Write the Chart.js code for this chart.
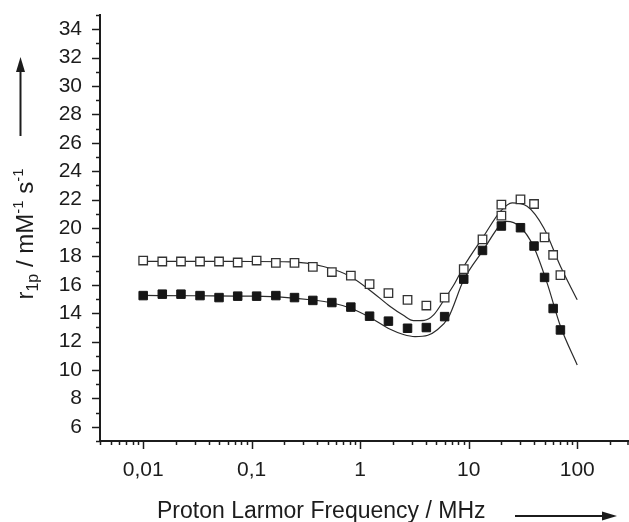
<!DOCTYPE html>
<html>
<head>
<meta charset="utf-8">
<script src="https://cdn.jsdelivr.net/npm/chart.js@4/dist/chart.umd.min.js"></script>
<style>
  html, body { margin: 0; padding: 0; background: #fff; }
  canvas { display: block; }
</style>
</head>
<body>
<canvas id="chart" width="629" height="522"></canvas>
<script>
// measured points (Proton Larmor frequency in MHz, r1p in mM^-1 s^-1)
const freqFilled = [0.01, 0.015, 0.0223, 0.0334, 0.05, 0.0743, 0.111, 0.167, 0.248, 0.366, 0.548, 0.82, 1.22, 1.82, 2.73, 4.07, 6.0, 9.0, 13.4, 20, 30, 40, 50, 60, 70];
const r1Filled = [15.24, 15.34, 15.34, 15.24, 15.10, 15.20, 15.20, 15.24, 15.10, 14.9, 14.75, 14.43, 13.79, 13.44, 12.94, 12.99, 13.76, 16.40, 18.42, 20.14, 20.02, 18.73, 16.52, 14.33, 12.82];

const freqOpen = [0.01, 0.015, 0.0223, 0.0334, 0.05, 0.0743, 0.111, 0.167, 0.248, 0.366, 0.548, 0.82, 1.22, 1.82, 2.73, 4.07, 6.0, 9.0, 13.4, 20, 20, 30, 40, 50, 60, 70];
const r1Open = [17.71, 17.64, 17.64, 17.64, 17.64, 17.57, 17.71, 17.55, 17.55, 17.26, 16.90, 16.64, 16.05, 15.41, 14.94, 14.54, 15.10, 17.11, 19.20, 21.65, 20.87, 22.02, 21.69, 19.34, 18.10, 16.68];

// fitted curves
const fitFreqOpen = [0.01, 0.03, 0.1, 0.226, 0.458, 0.81, 1.33, 1.89, 2.5, 3.1, 3.9, 4.75, 6.0, 7.3, 9.0, 13.7, 19.6, 25.1, 34.5, 49.2, 70.2, 100];
const fitOpen = [17.65, 17.65, 17.64, 17.62, 17.29, 16.59, 15.41, 14.47, 13.85, 13.48, 13.5, 13.88, 15.0, 16.0, 17.29, 19.41, 21.17, 21.77, 21.53, 20.0, 17.29, 14.94];

const fitFreqFilled = [0.01, 0.03, 0.1, 0.2, 0.366, 0.55, 0.82, 1.22, 1.89, 2.5, 3.2, 4.2, 5.1, 6.5, 9, 13.7, 19.6, 22.3, 29.5, 39.6, 52.8, 70.2, 100];
const fitFilled = [15.25, 15.23, 15.2, 15.12, 14.93, 14.72, 14.35, 13.72, 12.87, 12.5, 12.35, 12.45, 12.82, 13.7, 16.35, 18.47, 20.23, 20.47, 20.11, 18.7, 16.12, 13.06, 10.35];

const xTickValues = [0.01, 0.1, 1, 10, 100];
const xTickLabels = ["0,01", "0,1", "1", "10", "100"];
const yTickValues = [6, 8, 10, 12, 14, 16, 18, 20, 22, 24, 26, 28, 30, 32, 34];

const xMin = 0.004, xMax = 300;
const yMin = 5, yMax = 35;

const FONT = "'Liberation Sans', Arial, Helvetica, sans-serif";
const INK = "#1c1c1c";

const toPoints = (xs, ys) => xs.map((x, i) => ({ x, y: ys[i] }));

function noPadding(scale) {
    scale.paddingLeft = 0;
    scale.paddingRight = 0;
    scale.paddingTop = 0;
    scale.paddingBottom = 0;
}

// minor/major tick marks, axis titles and arrows
const decorations = {
    id: "decorations",
    afterDraw(chart) {
        const { ctx, scales: { x, y }, chartArea } = chart;
        ctx.save();
        ctx.strokeStyle = INK;
        ctx.lineWidth = 1.5;

        for (let v = yMin; v <= yMax; v++) {
            const py = Math.round(y.getPixelForValue(v)) + 0.5;
            const len = v % 2 === 0 ? 8 : 4;
            ctx.beginPath();
            ctx.moveTo(chartArea.left, py);
            ctx.lineTo(chartArea.left - len, py);
            ctx.stroke();
        }

        for (let d = 0.001; d <= 100; d *= 10) {
            for (let m = 1; m <= 9; m++) {
                const v = m * d;
                if (v < xMin * 0.999 || v > xMax * 1.001) continue;
                const px = Math.min(Math.round(x.getPixelForValue(v)) + 0.5, chartArea.right - 1);
                const len = m === 1 ? 8 : 4;
                ctx.beginPath();
                ctx.moveTo(px, chartArea.bottom);
                ctx.lineTo(px, chartArea.bottom + len);
                ctx.stroke();
            }
        }

        // x title
        ctx.fillStyle = INK;
        ctx.font = "23px " + FONT;
        ctx.textAlign = "left";
        ctx.textBaseline = "alphabetic";
        ctx.fillText("Proton Larmor Frequency / MHz", 157, 518);

        // x arrow
        ctx.lineWidth = 2;
        ctx.beginPath();
        ctx.moveTo(515, 516);
        ctx.lineTo(604, 516);
        ctx.stroke();
        ctx.beginPath();
        ctx.moveTo(617, 516);
        ctx.lineTo(602, 511.5);
        ctx.lineTo(602, 520.5);
        ctx.closePath();
        ctx.fill();

        // y arrow
        ctx.beginPath();
        ctx.moveTo(20.5, 136);
        ctx.lineTo(20.5, 70);
        ctx.stroke();
        ctx.beginPath();
        ctx.moveTo(20.5, 57);
        ctx.lineTo(16, 72);
        ctx.lineTo(25, 72);
        ctx.closePath();
        ctx.fill();

        // y title, rotated, with sub- and superscripts
        const parts = [
            { t: "r", size: 24, dy: 0 },
            { t: "1p", size: 16, dy: 5 },
            { t: " / mM", size: 24, dy: 0 },
            { t: "-1", size: 15, dy: -10 },
            { t: " s", size: 24, dy: 0 },
            { t: "-1", size: 15, dy: -10 }
        ];
        let total = 0;
        parts.forEach(p => { ctx.font = p.size + "px " + FONT; p.w = ctx.measureText(p.t).width; total += p.w; });
        ctx.translate(33, 234);
        ctx.rotate(-Math.PI / 2);
        let cx = -total / 2;
        parts.forEach(p => {
            ctx.font = p.size + "px " + FONT;
            ctx.fillText(p.t, cx, p.dy);
            cx += p.w;
        });
        ctx.restore();
    }
};

new Chart(document.getElementById("chart"), {
    type: "scatter",
    data: {
        datasets: [
            {
                data: toPoints(freqOpen, r1Open),
                pointStyle: "rect", pointRadius: 6,
                backgroundColor: "#ffffff", borderColor: "#333", borderWidth: 1.3
            },
            {
                data: toPoints(freqFilled, r1Filled),
                pointStyle: "rect", pointRadius: 6,
                backgroundColor: "#161616", borderColor: "#161616", borderWidth: 1
            },
            {
                data: toPoints(fitFreqOpen, fitOpen),
                showLine: true, pointRadius: 0, borderColor: "#2a2a2a", borderWidth: 1.2,
                cubicInterpolationMode: "monotone"
            },
            {
                data: toPoints(fitFreqFilled, fitFilled),
                showLine: true, pointRadius: 0, borderColor: "#2a2a2a", borderWidth: 1.2,
                cubicInterpolationMode: "monotone"
            }
        ]
    },
    options: {
        responsive: false,
        animation: false,
        layout: { autoPadding: false, padding: { top: 15, right: 0, left: 0, bottom: 0 } },
        plugins: { legend: { display: false }, tooltip: { enabled: false } },
        scales: {
            x: {
                type: "logarithmic",
                min: xMin, max: xMax,
                grid: { display: false, drawTicks: false },
                border: { display: true, color: INK, width: 2 },
                afterBuildTicks: scale => { scale.ticks = xTickValues.map(value => ({ value })); },
                afterFit: scale => { scale.height = 81; noPadding(scale); },
                ticks: {
                    autoSkip: false, maxRotation: 0, padding: 17,
                    color: INK, font: { family: FONT, size: 21 },
                    callback: (value, index) => xTickLabels[index]
                }
            },
            y: {
                min: yMin, max: yMax,
                grid: { display: false, drawTicks: false },
                border: { display: true, color: INK, width: 2 },
                afterBuildTicks: scale => { scale.ticks = yTickValues.map(value => ({ value })); },
                afterFit: scale => { scale.width = 100; noPadding(scale); },
                ticks: {
                    autoSkip: false, padding: 18,
                    color: INK, font: { family: FONT, size: 21 }
                }
            }
        }
    },
    plugins: [decorations]
});
</script>
</body>
</html>
